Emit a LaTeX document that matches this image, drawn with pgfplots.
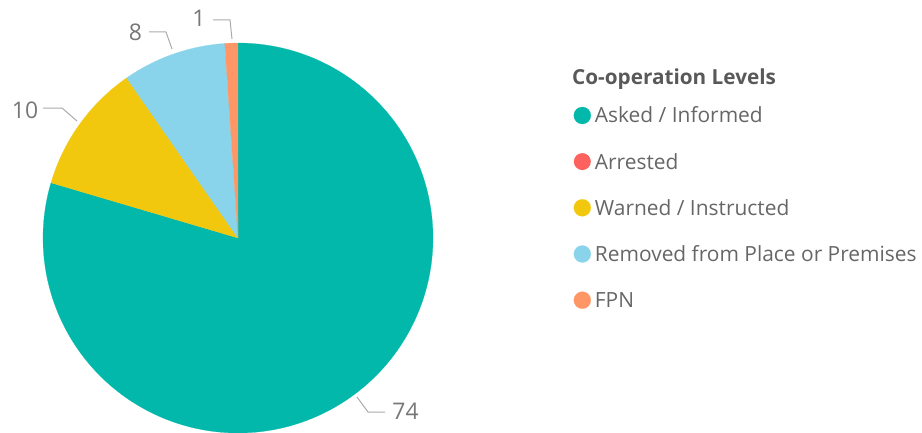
\documentclass[border=0pt]{standalone}
\usepackage{fontspec}
\setmainfont{Open Sans}
\usepackage{pgfplots}
\usepackage{pgfplotstable}
\pgfplotsset{compat=1.18}

\definecolor{asked}{HTML}{01B8AA}
\definecolor{arrested}{HTML}{FD625E}
\definecolor{warned}{HTML}{F2C80F}
\definecolor{removed}{HTML}{8AD4EB}
\definecolor{fpn}{HTML}{FE9666}
\definecolor{labelgray}{HTML}{777777}
\definecolor{leadergray}{HTML}{AAAAAA}
\definecolor{titlegray}{HTML}{595959}
\definecolor{itemgray}{HTML}{666666}

% co-operation levels (counts)
\pgfplotstableread{
level    value
Asked    74
Arrested 0
Warned   10
Removed  8
FPN      1
}\cooptable

\begin{document}
\begin{tikzpicture}[x=1bp,y=1bp]
\pgfplotstablegetelem{0}{value}\of\cooptable \let\vAsked\pgfplotsretval
\pgfplotstablegetelem{1}{value}\of\cooptable \let\vArrested\pgfplotsretval
\pgfplotstablegetelem{2}{value}\of\cooptable \let\vWarned\pgfplotsretval
\pgfplotstablegetelem{3}{value}\of\cooptable \let\vRemoved\pgfplotsretval
\pgfplotstablegetelem{4}{value}\of\cooptable \let\vFPN\pgfplotsretval
\pgfmathsetmacro\total{\vAsked+\vArrested+\vWarned+\vRemoved+\vFPN}
% slices run clockwise from 12 o'clock
\pgfmathsetmacro\aA{90}
\pgfmathsetmacro\aB{\aA-360*(\vAsked/\total)}
\pgfmathsetmacro\aC{\aB-360*(\vArrested/\total)}
\pgfmathsetmacro\aD{\aC-360*(\vWarned/\total)}
\pgfmathsetmacro\aE{\aD-360*(\vRemoved/\total)}
\pgfmathsetmacro\aF{\aE-360*(\vFPN/\total)}

\begin{axis}[
  at={(238bp,194bp)}, anchor=center,
  scale only axis, width=390bp, height=390bp,
  xmin=-1, xmax=1, ymin=-1, ymax=1,
  hide axis, clip=false,
  legend image code/.code={
    \path[#1] (8.5bp,2.5bp) circle (8.5bp);
    \path (0bp,0bp) (21bp,0bp);
  },
  legend cell align=left,
  legend style={
    draw=none, fill=none, inner sep=0pt,
    at={(1.3603,0.8367)}, anchor=north west,
    font=\fontsize{21}{24}\selectfont, text=itemgray,
    nodes={inner sep=0pt, text height=15bp, text depth=5bp},
    row sep=25.1bp,
    /tikz/every even column/.append style={column sep=0pt},
  },
]
\addplot[fill=asked, draw=asked, line width=0.2pt, domain=\aB:\aA, samples=150]
  ({cos(x)}, {sin(x)}) -- (axis cs:0,0) -- cycle;
\addlegendentry{Asked / Informed}
\addlegendimage{fill=arrested, draw=none}
\addlegendentry{Arrested}
\addplot[fill=warned, draw=warned, line width=0.2pt, domain=\aD:\aC, samples=30]
  ({cos(x)}, {sin(x)}) -- (axis cs:0,0) -- cycle;
\addlegendentry{Warned / Instructed}
\addplot[fill=removed, draw=removed, line width=0.2pt, domain=\aE:\aD, samples=30]
  ({cos(x)}, {sin(x)}) -- (axis cs:0,0) -- cycle;
\addlegendentry{Removed from Place or Premises}
\addplot[fill=fpn, draw=fpn, line width=0.2pt, domain=\aF:\aE, samples=8]
  ({cos(x)}, {sin(x)}) -- (axis cs:0,0) -- cycle;
\addlegendentry{FPN}
\end{axis}

% data labels with leader lines
\begin{scope}[draw=leadergray, line width=1bp]
  \draw (213,412) -- (230,412) -- (232,393);
  \draw (149,400) -- (166,400) -- (172,383);
  \draw (43,324) -- (62,324) -- (77,311);
  \draw (357,35) -- (368,20) -- (385,20);
\end{scope}
\begin{scope}[every node/.style={text=labelgray, font=\fontsize{23}{26}\selectfont, inner sep=0pt}]
  \node at (199,414) {1};
  \node at (135.5,399.5) {8};
  \node at (25,322) {10};
  \node at (405.5,21) {74};
\end{scope}

\node[anchor=base west, inner sep=0pt, text=titlegray,
  font=\bfseries\fontsize{20.8}{24}\selectfont] at (572,348) {Co-operation Levels};

\pgfresetboundingbox
\path[use as bounding box] (0,0) rectangle (922,432);
\end{tikzpicture}
\end{document}
